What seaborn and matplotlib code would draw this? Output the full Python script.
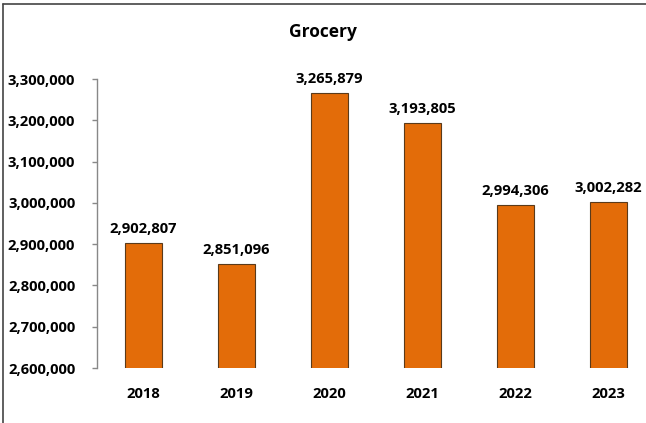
import matplotlib
matplotlib.use("Agg")
import matplotlib.pyplot as plt
import seaborn as sns
import pandas as pd
from matplotlib.lines import Line2D
from matplotlib.ticker import FuncFormatter

years = ["2018", "2019", "2020", "2021", "2022", "2023"]
values = [2902807, 2851096, 3265879, 3193805, 2994306, 3002282]
yticks = [2600000, 2700000, 2800000, 2900000, 3000000, 3100000, 3200000, 3300000]

sns.set_theme(style="white")
plt.rcParams['font.family'] = ['Open Sans', 'DejaVu Sans']

df = pd.DataFrame({"year": years, "value": values})

fig = plt.figure(figsize=(6.46, 4.23), dpi=100)
ax = fig.add_axes([0.150, 0.130, 0.864, 0.683])

sns.barplot(data=df, x="year", y="value", color="#E36C09", width=0.40,
            edgecolor="#5a3a1a", linewidth=0.8, saturation=1, ax=ax)

ax.set_ylim(2600000, 3300000)
ax.set_yticks(yticks)
ax.yaxis.set_major_formatter(FuncFormatter(lambda v, p: f"{int(v):,}"))
ax.set_xlabel("")
ax.set_ylabel("")

FS = 10.6
for s in ["top", "right", "bottom"]:
    ax.spines[s].set_visible(False)
ax.spines["left"].set_color("#888888")
ax.spines["left"].set_linewidth(1.0)
ax.tick_params(axis="y", direction="out", length=3.6, width=1, color="#888888",
               left=True, labelsize=FS, labelcolor="black", pad=12)
ax.tick_params(axis="x", bottom=False, labelsize=FS, labelcolor="black", pad=8)
for lab in ax.get_yticklabels() + ax.get_xticklabels():
    lab.set_fontweight("bold")

for i, v in enumerate(values):
    ax.annotate(f"{v:,}", (i, v), xytext=(0, 5), textcoords="offset points",
                ha="center", va="bottom", fontsize=FS, fontweight="bold", color="black")

fig.text(0.5, 0.924, "Grocery", ha="center", va="center", fontsize=12.5,
         fontweight="bold", color="black")

fig.add_artist(Line2D([0.005, 1.0], [0.990, 0.990], transform=fig.transFigure,
                      color="#444444", linewidth=1.2))
fig.add_artist(Line2D([0.005, 0.005], [0.0, 0.990], transform=fig.transFigure,
                      color="#444444", linewidth=1.2))

fig.savefig("out.png", dpi=100)
